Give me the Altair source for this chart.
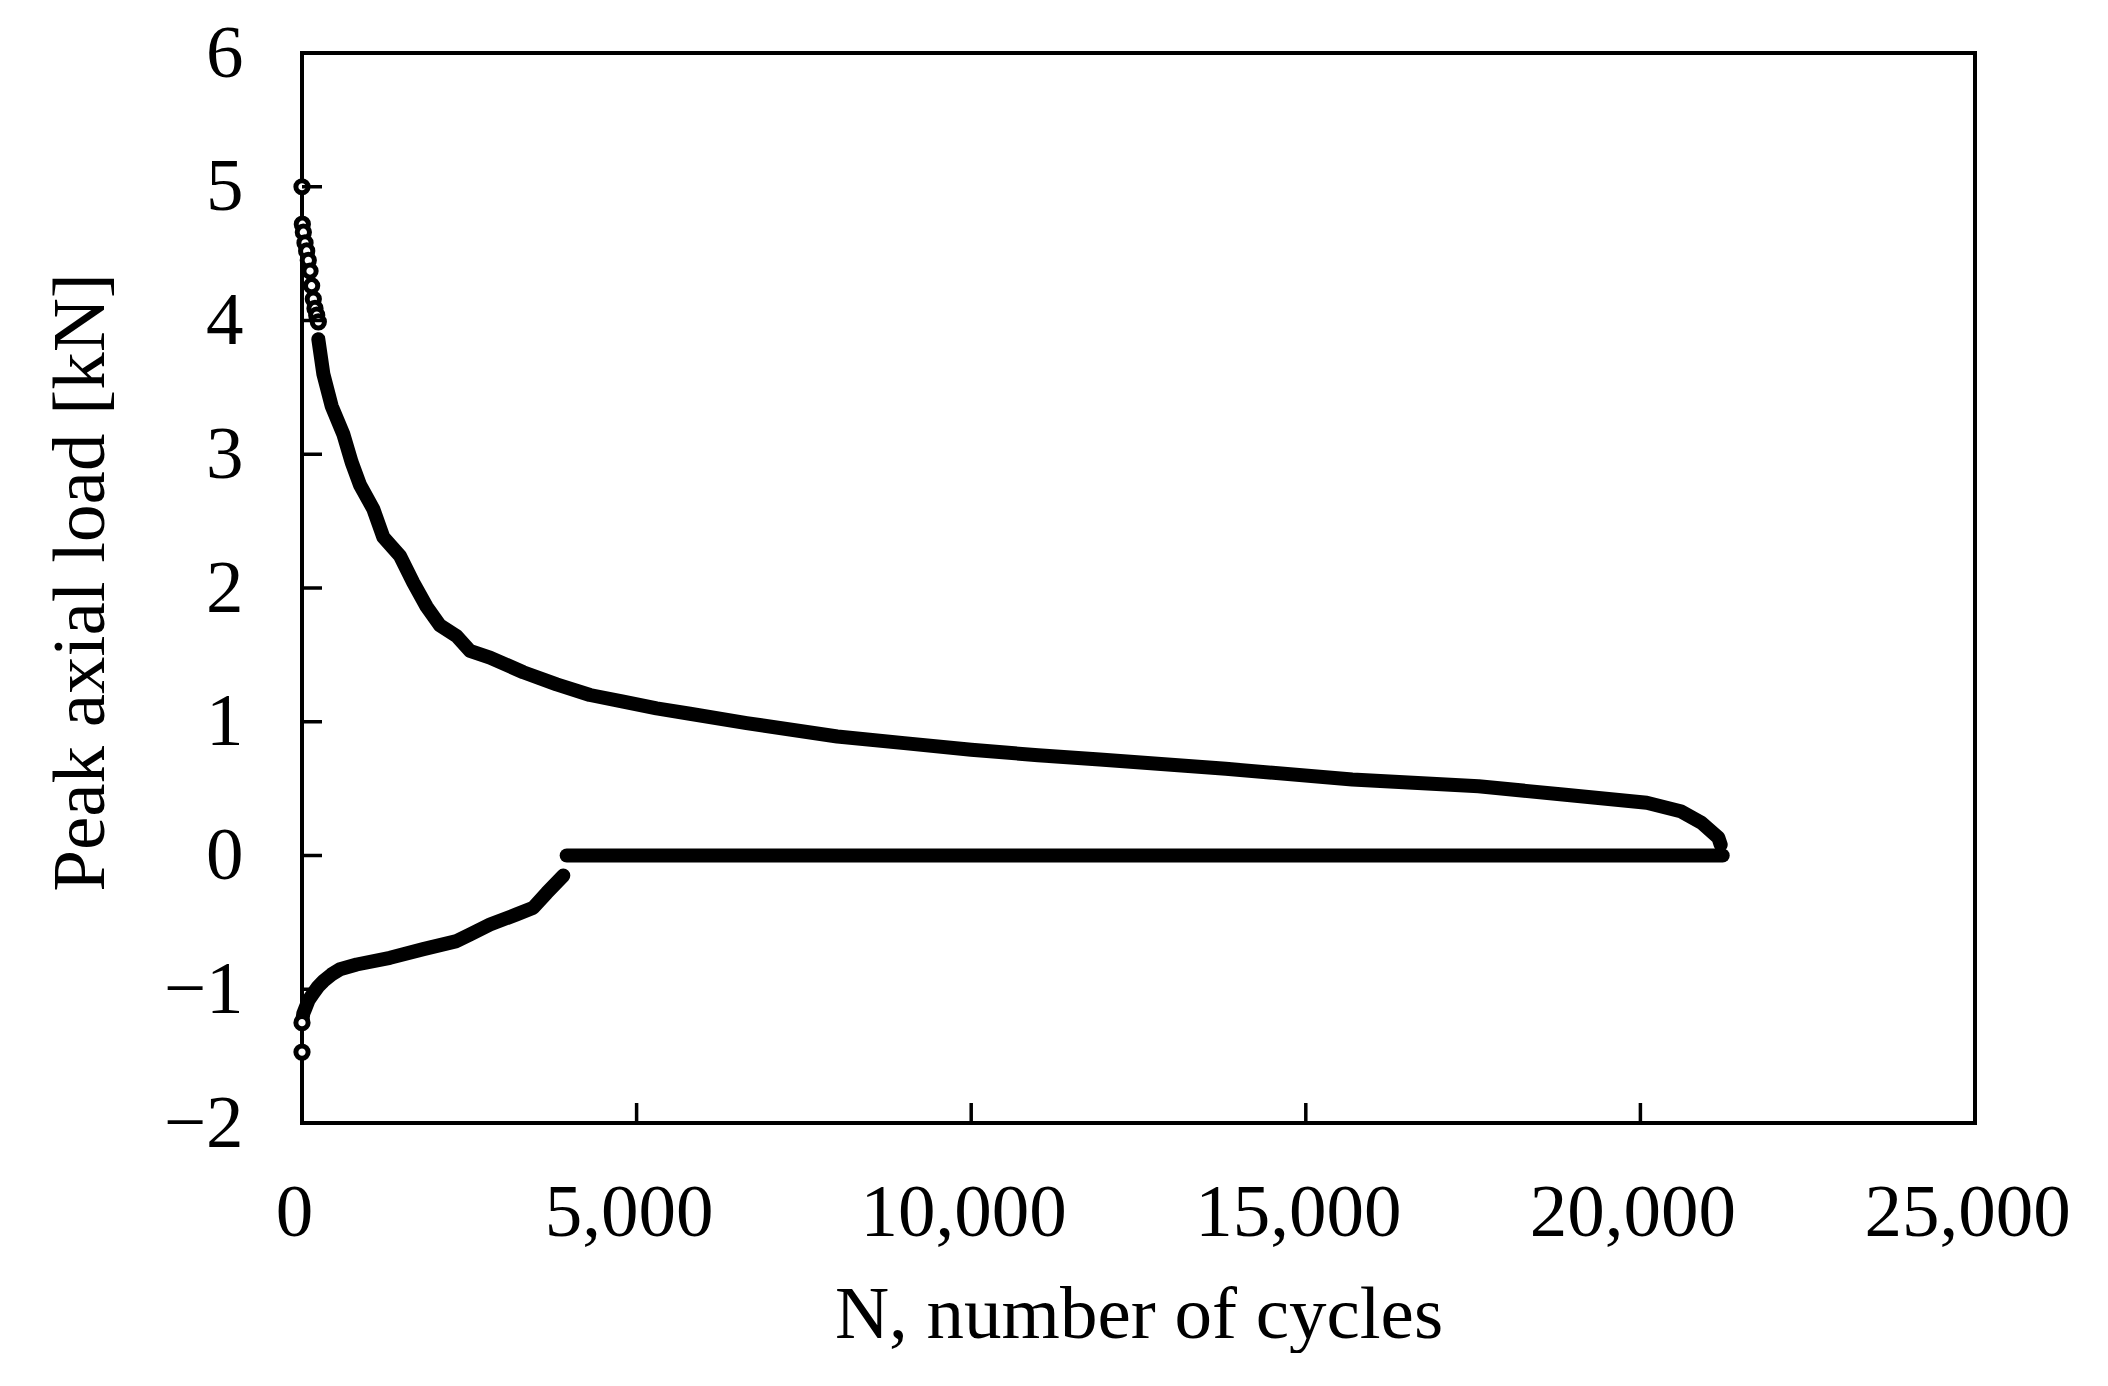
import altair as alt
import pandas as pd

# ---- data ----
# upper branch, sparse open markers at the start
up_sparse_n = [0, 5, 20, 45, 70, 94, 120, 144, 169, 194, 220, 244]
up_sparse_v = [5.00, 4.72, 4.66, 4.58, 4.52, 4.45, 4.37, 4.26, 4.16, 4.09, 4.04, 3.99]

# upper branch, dense part
up_n = [244, 319, 443, 618, 742, 867, 1066, 1215, 1464, 1663, 1863, 2062, 2311, 2510,
        2809, 3307, 3805, 4303, 4801, 5299, 5797, 6644, 8000, 9000, 10000, 11000,
        11922, 13805, 15695, 17582, 18840, 20095, 20600, 20915, 21166, 21200]
up_v = [3.86, 3.60, 3.36, 3.15, 2.94, 2.77, 2.59, 2.38, 2.24, 2.04, 1.86, 1.72, 1.64, 1.53,
        1.48, 1.37, 1.28, 1.20, 1.15, 1.10, 1.06, 0.99, 0.89, 0.84, 0.79, 0.75,
        0.718, 0.648, 0.568, 0.518, 0.456, 0.394, 0.331, 0.244, 0.132, 0.08]

# lower branch
low_sparse_n = [0, 0]
low_sparse_v = [-1.47, -1.25]
low_n = [0, 20, 45, 100, 169, 240, 319, 440, 568, 817, 1315, 1813, 2311, 2510, 2809,
         3207, 3456, 3656, 3905]
low_v = [-1.25, -1.18, -1.15, -1.08, -1.03, -0.98, -0.94, -0.89, -0.85, -0.815, -0.765,
         -0.70, -0.64, -0.59, -0.516, -0.44, -0.39, -0.28, -0.15]

# zero branch
zero_n = [3955, 8000, 12000, 16000, 21230]
zero_v = [0, 0, 0, 0, 0]

x_ticks = [0, 5000, 10000, 15000, 20000, 25000]
y_ticks = [-2, -1, 0, 1, 2, 3, 4, 5, 6]

W, H = 1673, 1070
FONT = "Liberation Serif"

lines = pd.DataFrame({
    "N": up_n + low_n + zero_n,
    "v": up_v + low_v + zero_v,
    "s": ["up"] * len(up_n) + ["low"] * len(low_n) + ["zero"] * len(zero_n),
})
pts = pd.DataFrame({"N": up_sparse_n + low_sparse_n, "v": up_sparse_v + low_sparse_v})
xt = pd.DataFrame({"N": x_ticks})
yt = pd.DataFrame({"v": y_ticks})

xscale = alt.Scale(domain=[0, 25000], nice=False, zero=False)
yscale = alt.Scale(domain=[-2, 6], nice=False, zero=False)

xaxis = alt.Axis(values=x_ticks, format=",d", title="N, number of cycles",
                 labelFont=FONT, labelFontSize=75, labelColor="black", labelLimit=0,
                 titleFont=FONT, titleFontSize=75, titleFontWeight="normal", titleColor="black",
                 titleLimit=0,
                 ticks=False, tickSize=0, domain=False, grid=False,
                 labelPadding=53, labelOffset=-8, labelFlush=False, labelOverlap=False,
                 titleX=W / 2, titleY=214, titleBaseline="alphabetic", titleAlign="center")
yaxis = alt.Axis(values=y_ticks, format="d", title="Peak axial load [kN]",
                 labelFont=FONT, labelFontSize=75, labelColor="black", labelLimit=0,
                 titleFont=FONT, titleFontSize=75, titleFontWeight="normal", titleColor="black",
                 titleLimit=0,
                 ticks=False, tickSize=0, domain=False, grid=False,
                 labelPadding=59, labelOverlap=False, labelFlush=False,
                 titleX=-199, titleY=529, titleAngle=270, titleBaseline="alphabetic",
                 titleAlign="center")

def X():
    return alt.X("N:Q", scale=xscale, axis=xaxis)

def Y():
    return alt.Y("v:Q", scale=yscale, axis=yaxis)

line_layer = alt.Chart(lines).mark_line(
    color="black", strokeWidth=14, strokeCap="round", strokeJoin="round"
).encode(x=X(), y=Y(), detail="s:N", order="N:Q")

pt_layer = alt.Chart(pts).mark_point(
    shape="circle", size=150, filled=True, fill="white", stroke="black",
    strokeWidth=5, opacity=1, fillOpacity=1, strokeOpacity=1
).encode(x=X(), y=Y())

ytick_layer = alt.Chart(yt).mark_rule(color="black", strokeWidth=3.5).encode(
    y=Y(), x=alt.value(0), x2=alt.value(20))
xtick_layer = alt.Chart(xt).mark_rule(color="black", strokeWidth=3.5).encode(
    x=X(), y=alt.value(H), y2=alt.value(H - 20))

chart = alt.layer(line_layer, pt_layer, ytick_layer, xtick_layer).properties(
    width=W, height=H,
    padding={"left": 294, "top": 45, "right": 110, "bottom": 230},
    autosize="none",
    background="white",
).configure_view(stroke="black", strokeWidth=4)

chart.save("out.html", embed_options={"renderer": "svg", "actions": False})
